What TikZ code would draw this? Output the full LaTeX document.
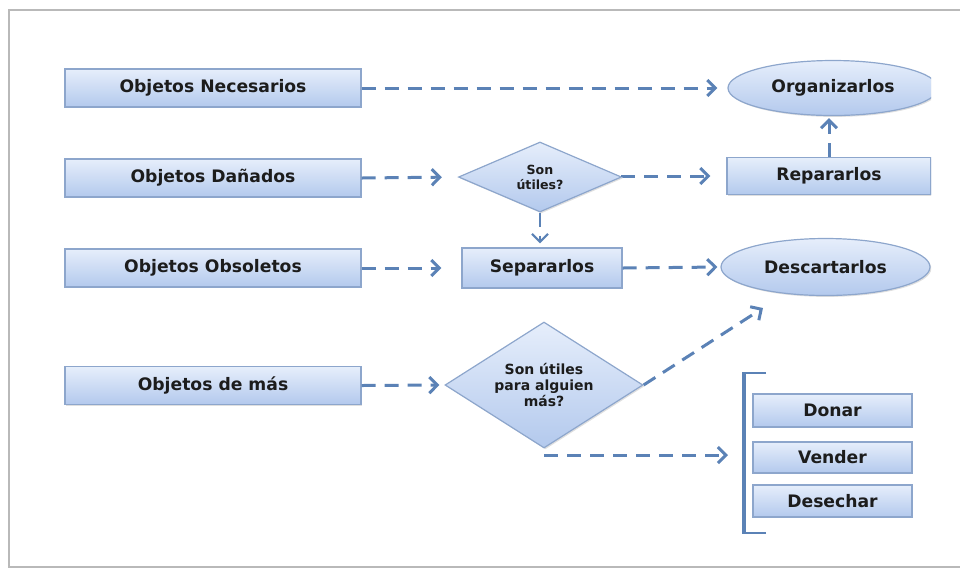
\documentclass[tikz,border=0pt]{standalone}
\usepackage{fontspec}
\setmainfont{DejaVu Sans}
\usetikzlibrary{shapes.geometric,arrows.meta,shadows}

\definecolor{flecha}{HTML}{5B82B6}
\definecolor{borde}{HTML}{8DA6CC}
\definecolor{claro}{HTML}{E6EEFB}
\definecolor{oscuro}{HTML}{B3C9ED}
\definecolor{letra}{HTML}{1C1C1C}

\tikzset{
  sombra/.style={drop shadow={shadow xshift=0.7pt,shadow yshift=-0.7pt,opacity=0.25,fill=black!50}},
  caja/.style={rectangle,draw=borde,line width=0.6pt,top color=claro,bottom color=oscuro,
               inner sep=0pt,text=letra,font=\bfseries\fontsize{8.6}{10}\selectfont,sombra},
  elipse/.style={caja,ellipse},
  rombo/.style={caja,diamond,shape aspect=2,align=center,
                font=\bfseries\fontsize{6.3}{7.5}\selectfont},
  flecha/.style={draw=flecha,line width=1.5pt,dash pattern=on 7pt off 4.5pt,
                 -{Straight Barb[length=4pt,width=8pt]}},
  corchete/.style={draw=flecha,line width=1.2pt},
}

\begin{document}
\begin{tikzpicture}[x=0.5pt,y=-0.5pt]
  \useasboundingbox (0,0) rectangle (960,570);
  \draw[gray!55,line width=1.2pt] (960,10) -- (9,10) -- (9,567) -- (960,567);

  \begin{scope}
    \clip (0,0) rectangle (931,570);
    % left column
    \node[caja,minimum width=148pt,minimum height=19pt] (nec) at (213,88) {Objetos Necesarios};
    \node[caja,minimum width=148pt,minimum height=19pt] (dan) at (213,178) {Objetos Dañados};
    \node[caja,minimum width=148pt,minimum height=19pt] (obs) at (213,268) {Objetos Obsoletos};
    \node[caja,minimum width=148pt,minimum height=19pt] (mas) at (213,385.5) {Objetos de más};

    % middle
    \node[rombo,minimum width=81.5pt,minimum height=35pt] (util) at (540,177) {Son\\útiles?};
    \node[caja,minimum width=80pt,minimum height=20pt] (sep) at (542,268) {Separarlos};
    \node[rombo,minimum width=99pt,minimum height=63pt,font=\bfseries\fontsize{7}{8}\selectfont]
      (alg) at (544,385) {Son útiles\\para alguien\\más?};

    % right
    \node[elipse,minimum width=105pt,minimum height=27.5pt] (org) at (833,88) {Organizarlos};
    \node[caja,minimum width=102pt,minimum height=18.5pt] (rep) at (829,176) {Repararlos};
    \node[elipse,minimum width=104.5pt,minimum height=28.5pt] (desc) at (825.5,267) {Descartarlos};
    \node[caja,minimum width=79.5pt,minimum height=16.5pt] (don) at (832.5,410.5) {Donar};
    \node[caja,minimum width=79.5pt,minimum height=15.5pt] (ven) at (832.5,457.5) {Vender};
    \node[caja,minimum width=79.5pt,minimum height=16pt] (dese) at (832.5,501) {Desechar};
  \end{scope}

  \coordinate (arriba) at (763,308);
  \coordinate (grupo) at (728,455);

  \draw[flecha,shorten >=5pt] (nec.east) -- (org.west);
  \draw[flecha,shorten >=8pt] (dan.east) -- (util.west);
  \draw[flecha,shorten >=8pt] (util.east) -- (rep.west -| util.east) -- (rep.west);
  \draw[flecha,shorten >=1pt] (rep.north) -- (rep.north |- org.south);
  \draw[flecha,line width=1.1pt,shorten >=2pt] (util.south) -- (util.south |- sep.north);
  \draw[flecha,shorten >=10pt] (obs.east) -- (sep.west);
  \draw[flecha,shorten >=1.5pt] (sep.east) -- (desc.west);
  \draw[flecha,shorten >=2.5pt] (mas.east) -- (alg.west);
  \draw[flecha] (alg.east) -- (arriba);
  \draw[flecha] (alg.south |- grupo) -- (grupo);

  % bracket
  \draw[corchete,line width=2pt] (744,372) -- (744,534);
  \draw[corchete] (766,373) -- (744,373);
  \draw[corchete] (766,533) -- (744,533);
\end{tikzpicture}
\end{document}
